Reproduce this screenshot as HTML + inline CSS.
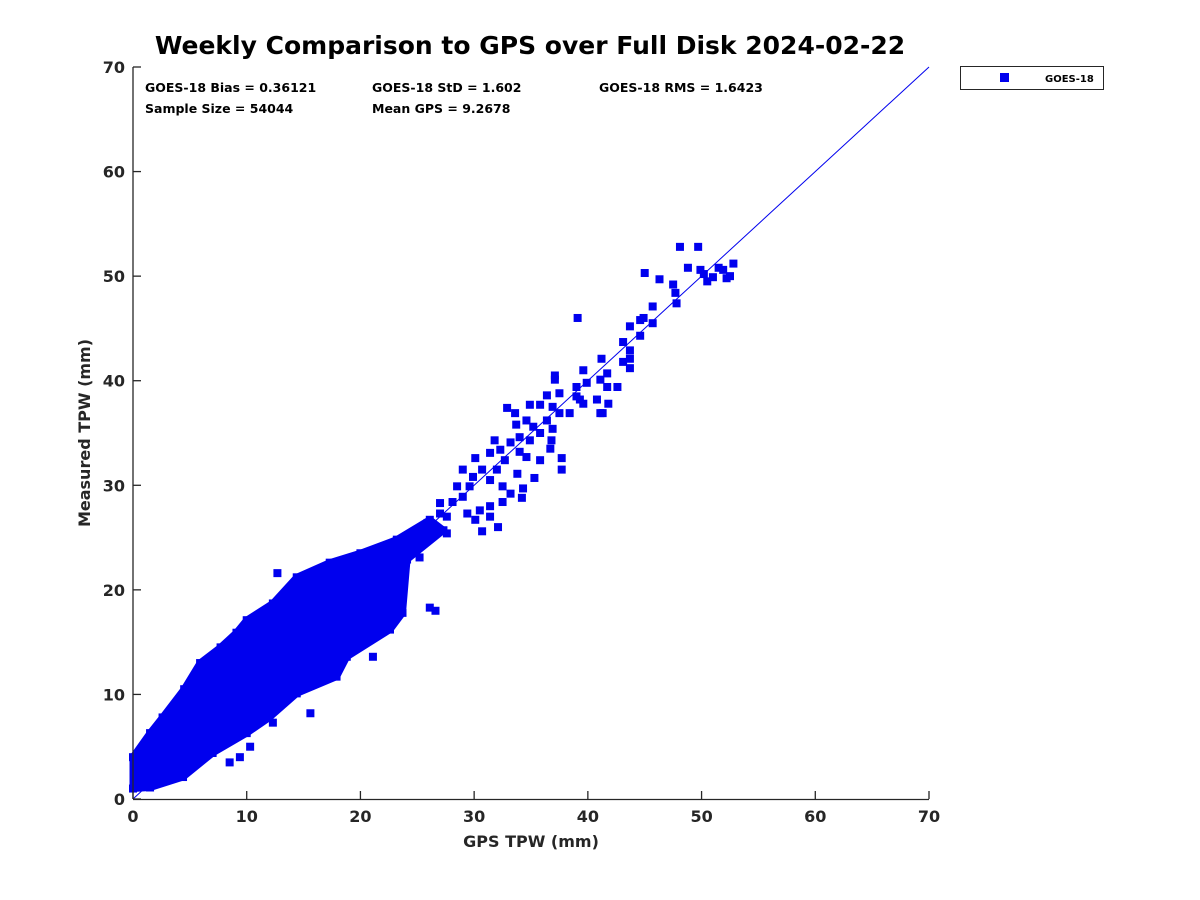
<!DOCTYPE html>
<html><head><meta charset="utf-8">
<style>
body{margin:0;background:#fff;}
svg{display:block;font-family:"DejaVu Sans","Liberation Sans",sans-serif;}
</style></head>
<body>
<svg id="chart" width="1200" height="900" viewBox="0 0 1200 900">
<rect width="1200" height="900" fill="#fff"/>
<text x="530" y="54" text-anchor="middle" font-size="25" font-weight="bold" fill="#000">Weekly Comparison to GPS over Full Disk 2024-02-22</text>
<g id="plot"></g>
<g id="axes"></g>
<g font-size="12.5" font-weight="bold" fill="#000">
<text x="145" y="92">GOES-18 Bias = 0.36121</text>
<text x="372" y="92">GOES-18 StD = 1.602</text>
<text x="599" y="92">GOES-18 RMS = 1.6423</text>
<text x="145" y="113">Sample Size = 54044</text>
<text x="372" y="113">Mean GPS = 9.2678</text>
</g>
<text x="531" y="847" text-anchor="middle" font-size="16" font-weight="bold" fill="#262626">GPS TPW (mm)</text>
<text transform="translate(90,433) rotate(-90)" text-anchor="middle" font-size="16" font-weight="bold" fill="#262626">Measured TPW (mm)</text>
<g>
<rect x="960.5" y="66.5" width="143" height="23" fill="#fff" stroke="#262626" stroke-width="1"/>
<rect x="1000" y="73" width="9" height="9" fill="#0000ee"/>
<text x="1045" y="82" font-size="10" font-weight="bold" fill="#000">GOES-18</text>
</g>
</svg>
<script>
const xTicks=[0,10,20,30,40,50,60,70];
const yTicks=[0,10,20,30,40,50,60,70];
// dense core envelope (GPS, measured)
const coreGps=[0,1.5,2.6,4.5,5.9,7.7,9.1,10.0,12.3,14.4,17.3,20.0,23.2,26.1,27.3,24.1,23.7,22.6,18.8,17.9,14.4,12.0,10.0,7.0,4.4,1.5,0];
const coreMeas=[4.0,6.3,7.8,10.5,13.0,14.5,15.9,17.1,18.7,21.2,22.6,23.5,24.8,26.7,25.7,22.9,17.8,16.2,13.6,11.7,10.1,7.8,6.3,4.4,2.1,1.1,1.0];
// individual scattered points
const ptGps=[48.1,49.7,45.0,46.3,47.5,47.7,47.8,49.9,51.0,51.9,52.8,50.5,52.2,39.1,45.7,44.9,44.6,45.7,43.7,44.6,43.1,43.7,43.7,43.1,43.7,41.2,39.6,37.1,37.1,41.1,41.7,42.6,41.7,39.9,39.0,37.5,36.4,39.3,39.0,39.6,40.8,41.8,41.1,41.3,34.9,35.8,32.9,33.6,36.9,37.5,38.4,36.4,34.6,33.7,35.2,36.9,35.8,34.0,34.9,36.8,31.8,33.2,32.3,34.0,36.7,31.4,30.1,32.7,34.6,35.8,37.7,37.7,29.0,30.7,32.0,33.8,35.3,29.9,31.4,28.5,29.6,32.5,34.3,33.2,29.0,28.1,27.0,32.5,34.2,31.4,30.5,29.4,27.0,27.6,30.1,31.4,25.9,32.1,30.7,27.6,26.1,8.5,9.4,10.3,12.3,15.6,21.1,26.1,26.6,12.7,25.2,50.2,51.5,52.5,48.8];
const ptMeas=[52.8,52.8,50.3,49.7,49.2,48.4,47.4,50.6,49.9,50.6,51.2,49.5,49.8,46.0,47.1,46.0,45.8,45.5,45.2,44.3,43.7,42.9,42.1,41.8,41.2,42.1,41.0,40.5,40.1,40.1,40.7,39.4,39.4,39.8,39.4,38.8,38.6,38.2,38.5,37.8,38.2,37.8,36.9,36.9,37.7,37.7,37.4,36.9,37.5,36.9,36.9,36.2,36.2,35.8,35.6,35.4,35.0,34.6,34.3,34.3,34.3,34.1,33.4,33.2,33.5,33.1,32.6,32.4,32.7,32.4,32.6,31.5,31.5,31.5,31.5,31.1,30.7,30.8,30.5,29.9,29.9,29.9,29.7,29.2,28.9,28.4,28.3,28.4,28.8,28.0,27.6,27.3,27.3,27.0,26.7,27.0,26.4,26.0,25.6,25.4,25.4,3.5,4.0,5.0,7.3,8.2,13.6,18.3,18.0,21.6,23.1,50.2,50.8,50.0,50.8];
const X0=133,X1=929,Y0=799,Y1=67,MAXV=70;
function sx(v){return X0+(X1-X0)*v/MAXV;}
function sy(v){return Y0-(Y0-Y1)*v/MAXV;}
const NS="http://www.w3.org/2000/svg";
const plot=document.getElementById('plot'),axes=document.getElementById('axes');
const MS=8,COL="#0000ee";
let pts=coreGps.map((g,i)=>sx(g)+","+sy(coreMeas[i])).join(" ");
const poly=document.createElementNS(NS,'polygon');
poly.setAttribute('points',pts);poly.setAttribute('fill',COL);poly.setAttribute('stroke',COL);poly.setAttribute('stroke-width','7');poly.setAttribute('stroke-linejoin','round');


plot.appendChild(poly);
function addPt(g,m){
  const r=document.createElementNS(NS,'rect');
  r.setAttribute('x',sx(g)-MS/2);r.setAttribute('y',sy(m)-MS/2);r.setAttribute('width',MS);r.setAttribute('height',MS);r.setAttribute('fill',COL);
  
  
  plot.appendChild(r);
}
coreGps.forEach((g,i)=>addPt(g,coreMeas[i]));
ptGps.forEach((g,i)=>addPt(g,ptMeas[i]));
const ln=document.createElementNS(NS,'line');
ln.setAttribute('x1',sx(0));ln.setAttribute('y1',sy(0));ln.setAttribute('x2',sx(70));ln.setAttribute('y2',sy(70));
ln.setAttribute('stroke','#0000ee');ln.setAttribute('stroke-width','1');


plot.appendChild(ln);
function L(x1,y1,x2,y2,name){const l=document.createElementNS(NS,'line');l.setAttribute('x1',x1);l.setAttribute('y1',y1);l.setAttribute('x2',x2);l.setAttribute('y2',y2);l.setAttribute('stroke','#262626');l.setAttribute('stroke-width','1.3');


axes.appendChild(l);}
L(X0,Y0+0.5,X1,Y0+0.5,'x-axis-line');
L(X0,Y0,X0,Y1,'y-axis-line');
function T(x,y,s,anchor,name){const t=document.createElementNS(NS,'text');t.setAttribute('x',x);t.setAttribute('y',y);t.setAttribute('text-anchor',anchor);t.setAttribute('font-size','16');t.setAttribute('font-weight','bold');t.setAttribute('fill','#262626');t.textContent=s;


axes.appendChild(t);}
xTicks.forEach(v=>{const x=sx(v);L(x,Y0,x,Y0-8,'x-tick');T(x,Y0+23,String(v),'middle','x-tick-label');});
yTicks.forEach(v=>{const y=sy(v);L(X0,y,X0+8,y,'y-tick');T(X0-8,y+6,String(v),'end','y-tick-label');});
</script>
</body></html>
